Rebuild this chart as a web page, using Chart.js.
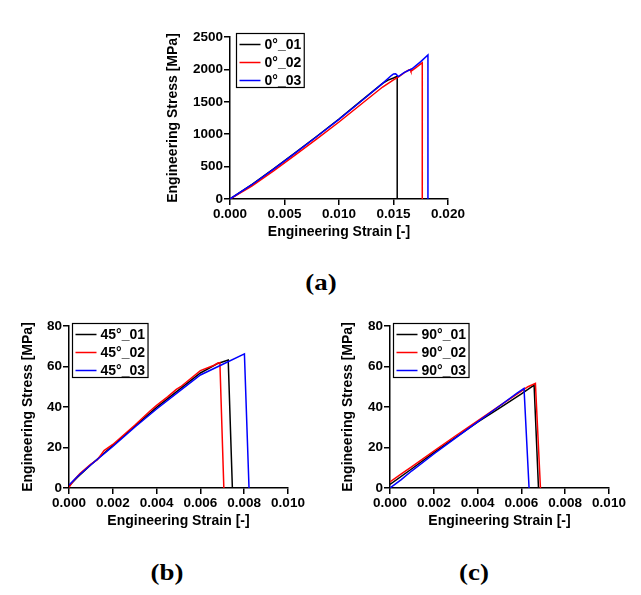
<!DOCTYPE html>
<html><head><meta charset="utf-8">
<script src="https://cdn.jsdelivr.net/npm/chart.js@4/dist/chart.umd.min.js"></script>
<style>
html,body{margin:0;padding:0;background:#fff;width:641px;height:595px;overflow:hidden;position:relative}
canvas{position:absolute}
.lab{position:absolute;font-family:"Liberation Serif","Times New Roman",serif;font-weight:bold;font-size:24px;transform:translate(-50%,-50%) scaleX(1.12);white-space:nowrap}
</style></head><body>
<canvas id="ca" width="310" height="225" style="left:160px;top:20px"></canvas>
<canvas id="cb" width="310" height="234" style="left:0px;top:300px"></canvas>
<canvas id="cc" width="311" height="234" style="left:320px;top:300px"></canvas>
<div class="lab" style="left:321px;top:282px">(a)</div>
<div class="lab" style="left:167px;top:572px">(b)</div>
<div class="lab" style="left:474px;top:572px">(c)</div>
<script>
// ---------- Data ----------
const xLabel = 'Engineering Strain [-]';
const yLabel = 'Engineering Stress [MPa]';
const seriesColors = ['#000000', '#ff0000', '#0000ff'];

// (a) 0 degree
const labelsA = ['0°_01', '0°_02', '0°_03'];
const xTicksA = [0, 0.005, 0.010, 0.015, 0.020];
const yTicksA = [0, 500, 1000, 1500, 2000, 2500];
const strainA01 = [0, 0.002, 0.004, 0.006, 0.008, 0.010, 0.012, 0.014, 0.0145, 0.0150, 0.0153, 0.01534, 0.01534];
const stressA01 = [0, 222, 465, 716, 972, 1234, 1510, 1785, 1835, 1868, 1890, 1895, 0];
const strainA02 = [0, 0.002, 0.004, 0.006, 0.008, 0.010, 0.012, 0.014, 0.0150, 0.0155, 0.0160, 0.0164, 0.01655, 0.0166, 0.0170, 0.0175, 0.01764, 0.01764];
const stressA02 = [0, 200, 435, 682, 932, 1188, 1458, 1728, 1840, 1890, 1950, 1990, 1995, 1972, 2020, 2085, 2103, 0];
const strainA03 = [0, 0.002, 0.004, 0.006, 0.008, 0.010, 0.012, 0.014, 0.0148, 0.0150, 0.0152, 0.01544, 0.0160, 0.0167, 0.0175, 0.01816, 0.01816];
const stressA03 = [0, 220, 460, 712, 968, 1230, 1505, 1785, 1905, 1930, 1934, 1890, 1955, 2010, 2120, 2222, 0];

// (b) 45 degree
const labelsB = ['45°_01', '45°_02', '45°_03'];
const xTicksBC = [0, 0.002, 0.004, 0.006, 0.008, 0.010];
const yTicksBC = [0, 20, 40, 60, 80];
const strainB01 = [0, 0.0004, 0.001, 0.002, 0.003, 0.004, 0.005, 0.006, 0.0068, 0.00727, 0.00746];
const stressB01 = [1, 5.5, 11.5, 21, 30.5, 39.8, 48.3, 56.8, 61.5, 63.2, 0];
const strainB02 = [0, 0.0002, 0.0005, 0.001, 0.0013, 0.0016, 0.002, 0.003, 0.0037, 0.004, 0.0045, 0.0049, 0.0051, 0.006, 0.0066, 0.0068, 0.00689, 0.00707];
const stressB02 = [0.3, 3.5, 7.2, 11.8, 14, 18.5, 21.5, 31, 38, 40.8, 45, 48.7, 50, 58, 60.5, 61.7, 61.9, 0];
const strainB03 = [0, 0.0004, 0.001, 0.002, 0.003, 0.004, 0.005, 0.006, 0.007, 0.00801, 0.00822];
const stressB03 = [1.5, 5.8, 11.5, 20.5, 30, 39, 47.5, 55.8, 61, 66.2, 0];

// (c) 90 degree
const labelsC = ['90°_01', '90°_02', '90°_03'];
const strainC01 = [0, 0.001, 0.002, 0.003, 0.004, 0.005, 0.006, 0.00658, 0.00678];
const stressC01 = [1.8, 9.5, 17.5, 25, 32.5, 39.5, 46.5, 50.8, 0];
const strainC02 = [0, 0.0005, 0.001, 0.002, 0.003, 0.004, 0.005, 0.006, 0.0063, 0.00664, 0.00687];
const stressC02 = [3, 6.8, 10.5, 18.2, 25.8, 33.2, 40.5, 47.8, 50, 51.7, 0];
const strainC03 = [0, 0.0005, 0.001, 0.002, 0.003, 0.004, 0.005, 0.0058, 0.00612, 0.00635];
const stressC03 = [0, 4, 8.5, 16.8, 24.8, 32.7, 40.5, 46.8, 49.2, 0];

// ---------- Helpers ----------
const FONT = '"Liberation Sans", Arial, Helvetica, sans-serif';
const toPts = (xs, ys) => xs.map((x, i) => ({x: x, y: ys[i]}));

const boxLegend = {
  id: 'boxLegend',
  afterDraw(chart, args, opts) {
    const ctx = chart.ctx, ca = chart.chartArea;
    const ds = chart.data.datasets;
    ctx.save();
    ctx.font = 'bold 14px ' + FONT;
    const tw = Math.max(...ds.map(d => ctx.measureText(d.label).width));
    const x0 = Math.round(ca.left + opts.dx) + 0.5, y0 = Math.round(ca.top + opts.dy) + 0.5;
    const w = 28 + tw + 3, h = 54;
    ctx.fillStyle = '#fff';
    ctx.fillRect(x0, y0, w, h);
    ctx.strokeStyle = '#000';
    ctx.lineWidth = 1.2;
    ctx.strokeRect(x0, y0, w, h);
    ds.forEach((d, i) => {
      const y = y0 + 11 + 18 * i;
      ctx.strokeStyle = d.borderColor;
      ctx.lineWidth = 1.5;
      ctx.beginPath();
      ctx.moveTo(x0 + 3, y);
      ctx.lineTo(x0 + 24, y);
      ctx.stroke();
      ctx.fillStyle = '#000';
      ctx.textBaseline = 'middle';
      ctx.textAlign = 'left';
      ctx.fillText(d.label, x0 + 28, y + 1);
    });
    ctx.restore();
  }
};

function makeChart(id, labels, series, xMax, yMax, xTicks, yTicks, cfg) {
  const datasets = series.map((pts, i) => ({
    label: labels[i],
    data: pts,
    borderColor: seriesColors[i],
    backgroundColor: seriesColors[i],
    borderWidth: 1.5,
    pointRadius: 0,
    showLine: true,
    fill: false,
    tension: 0,
    order: 2 - i
  }));
  const axisCommon = {
    grid: {drawOnChartArea: false, drawTicks: true, tickLength: 6, color: '#000', tickColor: '#000', lineWidth: 1.5, tickWidth: 1.5},
    border: {display: true, color: '#000', width: 1.5}
  };
  return new Chart(document.getElementById(id), {
    type: 'scatter',
    data: {datasets},
    plugins: [boxLegend],
    options: {
      responsive: false,
      animation: false,
      devicePixelRatio: 1,
      layout: {padding: {left: 0, top: cfg.padTop, right: 22, bottom: 0}},
      plugins: {
        legend: {display: false},
        tooltip: {enabled: false},
        boxLegend: {dx: cfg.legDx, dy: cfg.legDy}
      },
      scales: {
        x: Object.assign({}, axisCommon, {
          type: 'linear', min: 0, max: xMax,
          afterBuildTicks: s => { s.ticks = xTicks.map(v => ({value: v})); },
          afterFit: s => { s.height = 46; },
          ticks: {callback: v => Number(v).toFixed(3), font: {family: FONT, size: 13.5, weight: 'bold'}, color: '#000', padding: 1, maxRotation: 0, autoSkip: false},
          title: {display: true, text: xLabel, font: {family: FONT, size: 14, weight: 'bold'}, color: '#000', padding: {top: 4, bottom: 4}}
        }),
        y: Object.assign({}, axisCommon, {
          type: 'linear', min: 0, max: yMax,
          afterBuildTicks: s => { s.ticks = yTicks.map(v => ({value: v})); },
          afterFit: s => { s.width = cfg.yWidth; },
          ticks: {callback: v => String(v), font: {family: FONT, size: 13.5, weight: 'bold'}, color: '#000', padding: 1, autoSkip: false},
          title: {display: true, text: yLabel, font: {family: FONT, size: 14, weight: 'bold'}, color: '#000', padding: {top: cfg.yTitlePad, bottom: 0}}
        })
      }
    }
  });
}

makeChart('ca', labelsA,
  [toPts(strainA01, stressA01), toPts(strainA02, stressA02), toPts(strainA03, stressA03)],
  0.020, 2500, xTicksA, yTicksA,
  {padTop: 17, yWidth: 70, yTitlePad: 4.6, legDx: 6, legDy: -4});
makeChart('cb', labelsB,
  [toPts(strainB01, stressB01), toPts(strainB02, stressB02), toPts(strainB03, stressB03)],
  0.010, 80, xTicksBC, yTicksBC,
  {padTop: 26, yWidth: 69, yTitlePad: 19.6, legDx: 3, legDy: -3});
makeChart('cc', labelsC,
  [toPts(strainC01, stressC01), toPts(strainC02, stressC02), toPts(strainC03, stressC03)],
  0.010, 80, xTicksBC, yTicksBC,
  {padTop: 26, yWidth: 70, yTitlePad: 19.6, legDx: 2.5, legDy: -3});
</script>
</body></html>
